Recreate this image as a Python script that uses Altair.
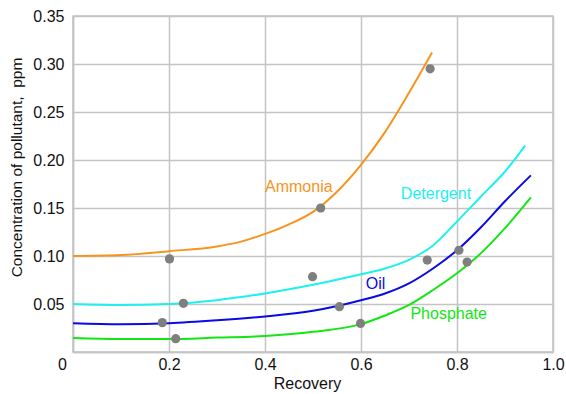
import altair as alt
import pandas as pd

# ---- data ----
series_names = ["Ammonia", "Detergent", "Oil", "Phosphate"]
series_colors = ["#f7941d", "#1ef0f0", "#0a0ae6", "#14e614"]

ammonia_x = [0.0, 0.1, 0.2, 0.3, 0.35, 0.4, 0.45, 0.5, 0.55, 0.6, 0.65, 0.7, 0.748]
ammonia_y = [0.100, 0.101, 0.105, 0.110, 0.115, 0.123, 0.133, 0.146, 0.167, 0.195, 0.229, 0.270, 0.312]

detergent_x = [0.0, 0.1, 0.2, 0.3, 0.4, 0.5, 0.6, 0.65, 0.7, 0.75, 0.8, 0.85, 0.9, 0.942]
detergent_y = [0.050, 0.049, 0.050, 0.054, 0.061, 0.070, 0.081, 0.087, 0.096, 0.111, 0.136, 0.162, 0.188, 0.215]

oil_x = [0.0, 0.1, 0.2, 0.3, 0.4, 0.5, 0.6, 0.65, 0.7, 0.75, 0.8, 0.85, 0.9, 0.954]
oil_y = [0.030, 0.029, 0.030, 0.033, 0.037, 0.043, 0.054, 0.061, 0.0715, 0.087, 0.106, 0.130, 0.157, 0.184]

phosphate_x = [0.0, 0.1, 0.2, 0.3, 0.4, 0.5, 0.6, 0.65, 0.7, 0.75, 0.8, 0.85, 0.9, 0.954]
phosphate_y = [0.0145, 0.0135, 0.0135, 0.015, 0.0167, 0.021, 0.029, 0.038, 0.049, 0.0646, 0.082, 0.103, 0.129, 0.161]

point_x = [0.744, 0.516, 0.201, 0.499, 0.230, 0.186, 0.214, 0.555, 0.599, 0.738, 0.804, 0.821]
point_y = [0.295, 0.150, 0.097, 0.0785, 0.0507, 0.0306, 0.0139, 0.0472, 0.0298, 0.0958, 0.106, 0.0937]

label_x = [0.400, 0.683, 0.610, 0.703]
label_y = [0.172, 0.165, 0.0705, 0.040]

x_ticks = [0.0, 0.2, 0.4, 0.6, 0.8, 1.0]
y_ticks = [0.0, 0.05, 0.10, 0.15, 0.20, 0.25, 0.30, 0.35]

# ---- tables ----
rows = []
for name, xs, ys in zip(series_names,
                        [ammonia_x, detergent_x, oil_x, phosphate_x],
                        [ammonia_y, detergent_y, oil_y, phosphate_y]):
    for i, (a, b) in enumerate(zip(xs, ys)):
        rows.append({"series": name, "x": a, "y": b, "order": i})
lines_df = pd.DataFrame(rows)
points_df = pd.DataFrame({"x": point_x, "y": point_y})
labels_df = pd.DataFrame({"series": series_names, "x": label_x, "y": label_y})

FONT = "Liberation Sans"
GRID = "#c4c4c4"
FS = 16

xscale = alt.Scale(domain=[0, 1], nice=False, zero=False)
yscale = alt.Scale(domain=[0, 0.35], nice=False, zero=False)
cscale = alt.Scale(domain=series_names, range=series_colors)

x_axis = alt.Axis(
    values=x_ticks, grid=True, ticks=False, domain=True, labelFlush=False,
    labelExpr="datum.value == 0 ? '0' : format(datum.value, '.1f')",
    labelOffset=alt.expr("datum.value == 0 ? -11 : 0"),
    labelPadding=4, labelFontSize=FS, labelFont=FONT, labelColor="#111111",
    title="Recovery", titleFont=FONT, titleFontSize=FS, titleFontWeight="normal",
    titleColor="#111111", titleX=234, titleY=36, titleBaseline="alphabetic",
    titleAlign="center", titleAnchor="start",
)
y_axis = alt.Axis(
    values=y_ticks, grid=True, ticks=False, domain=True, labelFlush=False,
    labelExpr="datum.value == 0 ? '' : format(datum.value, '.2f')",
    labelPadding=9, labelFontSize=FS, labelFont=FONT, labelColor="#111111",
    title="Concentration of pollutant,\u00a0 ppm", titleFont=FONT, titleFontSize=15.5,
    titleFontWeight="normal", titleColor="#111111", titleAngle=270,
    titleX=-57, titleY=151, titleBaseline="middle", titleAlign="center",
    titleAnchor="start",
)

lines = alt.Chart(lines_df).mark_line(strokeWidth=2, interpolate="monotone").encode(
    x=alt.X("x:Q", scale=xscale, axis=x_axis),
    y=alt.Y("y:Q", scale=yscale, axis=y_axis),
    color=alt.Color("series:N", scale=cscale, legend=None),
    detail="series:N",
    order="order:Q",
)

points = alt.Chart(points_df).mark_circle(size=85, color="#7f7f7f", opacity=1).encode(
    x=alt.X("x:Q", scale=xscale),
    y=alt.Y("y:Q", scale=yscale),
)

labels = alt.Chart(labels_df).mark_text(
    align="left", baseline="middle", fontSize=FS, font=FONT
).encode(
    x=alt.X("x:Q", scale=xscale),
    y=alt.Y("y:Q", scale=yscale),
    text="series:N",
    color=alt.Color("series:N", scale=cscale, legend=None),
)

chart = alt.layer(lines, points, labels).properties(
    width=480, height=336,
    autosize=alt.AutoSizeParams(type="none"),
    padding={"left": 73, "top": 16, "right": 13, "bottom": 42},
    background="white",
).configure_view(
    stroke=GRID, strokeWidth=1.5
).configure_axis(
    gridColor=GRID, gridWidth=1.5, domainColor=GRID, domainWidth=1.5,
)

chart.save("out.html", embed_options={"renderer": "svg", "actions": False})
